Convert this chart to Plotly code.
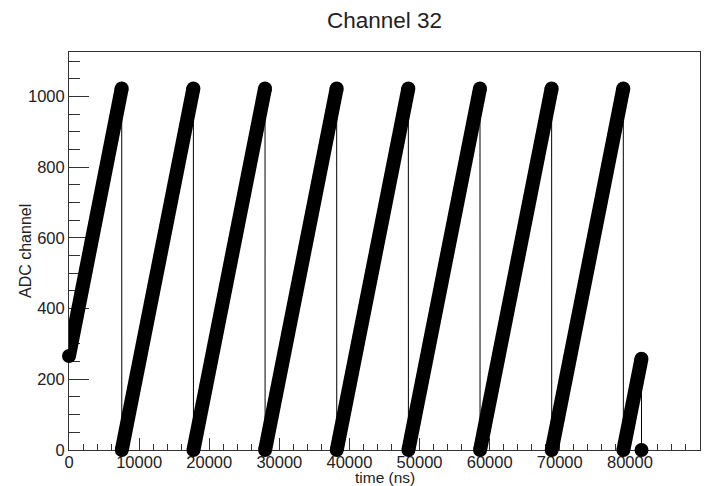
import plotly.graph_objects as go

# Ramp segments of the ADC sawtooth (time in ns, ADC channel)
ramp_start_t = [0, 7530, 17750, 27970, 38190, 48410, 58630, 68850, 79070]
ramp_start_v = [266, 0, 0, 0, 0, 0, 0, 0, 0]
ramp_peak_t = [7520, 17740, 27960, 38180, 48400, 58620, 68840, 79060, 81650]
ramp_peak_v = [1023, 1023, 1023, 1023, 1023, 1023, 1023, 1023, 258]
# final sample after the last ramp
final_t = [81660]
final_v = [0]

x_ticks = [0, 10000, 20000, 30000, 40000, 50000, 60000, 70000, 80000, 90000]
y_ticks = [0, 200, 400, 600, 800, 1000]

FONT = "Liberation Sans, Arial, Helvetica, sans-serif"
TXT = "#222222"
AX = "#333333"

fig = go.Figure()

# thin connecting line through every vertex (drops included)
path_t, path_v = [], []
for s_t, s_v, p_t, p_v in zip(ramp_start_t, ramp_start_v, ramp_peak_t, ramp_peak_v):
    path_t += [s_t, p_t]
    path_v += [s_v, p_v]
path_t += final_t
path_v += final_v
fig.add_trace(go.Scatter(x=path_t, y=path_v, mode="lines",
                         line=dict(color="black", width=1), hoverinfo="skip"))

# thick ramps (dense markers)
thick_t, thick_v = [], []
for s_t, s_v, p_t, p_v in zip(ramp_start_t, ramp_start_v, ramp_peak_t, ramp_peak_v):
    thick_t += [s_t, p_t, None]
    thick_v += [s_v, p_v, None]
fig.add_trace(go.Scatter(x=thick_t, y=thick_v, mode="lines",
                         line=dict(color="black", width=14), hoverinfo="skip"))

# round ends of the ramps + final point
end_t = ramp_start_t + ramp_peak_t + final_t
end_v = ramp_start_v + ramp_peak_v + final_v
fig.add_trace(go.Scatter(x=end_t, y=end_v, mode="markers",
                         marker=dict(color="black", size=14, line=dict(width=0)),
                         cliponaxis=False, hoverinfo="skip"))

axis_common = dict(
    showline=True, linecolor=AX, linewidth=1, mirror=True,
    ticks="inside", tickcolor=AX, tickwidth=1,
    showgrid=False, zeroline=False, layer="below traces",
    tickfont=dict(family=FONT, size=16.5, color=TXT),
    automargin=False,
)

# The page body has an 8px margin, so the figure is sized to fit the window.
fig.update_layout(
    width=713, height=478, autosize=False,
    margin=dict(l=61, r=21, t=44, b=36),
    paper_bgcolor="white", plot_bgcolor="white",
    showlegend=False,
    title=dict(text="Channel 32", x=0.528, xanchor="center", y=0.975, yanchor="middle",
               font=dict(family=FONT, size=22.5, color=TXT)),
    xaxis=dict(range=[0, 90000], tickvals=x_ticks, ticktext=[str(v) for v in x_ticks],
               ticklen=12, ticklabelstandoff=-3,
               minor=dict(dtick=2000, ticklen=6, ticks="inside", tickcolor=AX, showgrid=False),
               **axis_common),
    yaxis=dict(range=[0, 1126], tickvals=y_ticks, ticktext=[str(v) for v in y_ticks],
               ticklen=20,
               minor=dict(dtick=50, ticklen=11, ticks="inside", tickcolor=AX, showgrid=False),
               **axis_common),
    annotations=[
        dict(text="time (ns)", xref="paper", yref="paper", x=0.5, y=-0.068,
             xanchor="center", yanchor="middle", showarrow=False,
             font=dict(family=FONT, size=15.5, color=TXT)),
        dict(text="ADC channel", xref="paper", yref="paper", x=-0.0697, y=0.5,
             xanchor="center", yanchor="middle", textangle=-90, showarrow=False,
             font=dict(family=FONT, size=16, color=TXT)),
    ],
)

fig.write_html("out.html")
